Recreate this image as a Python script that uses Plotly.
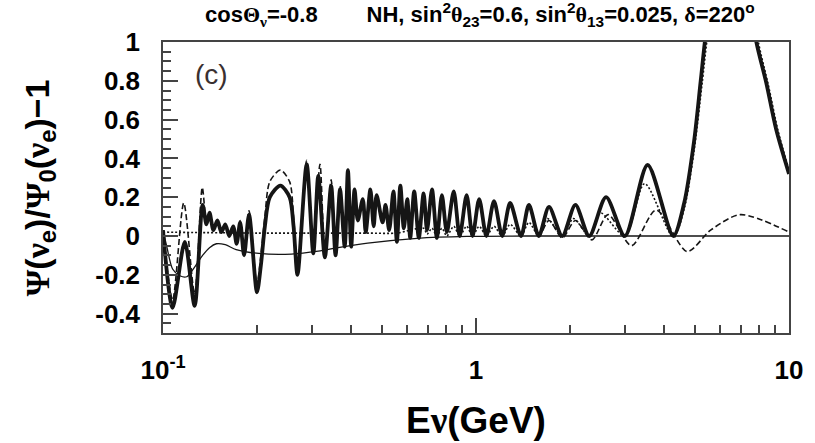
import plotly.graph_objects as go

# ---- data: (E in GeV, Psi/Psi0 - 1) ----
thick = [(0.1000, 0.03), (0.1073, -0.37), (0.1174, -0.03), (0.1262, -0.36), (0.1338, 0.16),
         (0.1377, 0.06), (0.1408, 0.12), (0.1449, 0.03), (0.1492, 0.08), (0.1536, 0.02),
         (0.1581, 0.06), (0.1628, 0.0), (0.1676, 0.05), (0.1719, -0.04), (0.1764, 0.07),
         (0.1816, -0.10), (0.1883, 0.11), (0.1996, -0.29), (0.2055, -0.15), (0.2116, 0.05),
         (0.2194, 0.20), (0.2372, 0.26), (0.2538, 0.20), (0.2613, 0.05), (0.2690, -0.20),
         (0.2878, 0.37), (0.3022, -0.09), (0.3134, 0.31), (0.3290, -0.11), (0.3445, 0.26),
         (0.3559, -0.10), (0.3678, 0.24), (0.3806, -0.055), (0.3898, 0.34), (0.3993, -0.055),
         (0.4093, 0.24), (0.4192, 0.08), (0.4348, 0.19), (0.4443, 0.02), (0.4598, 0.24),
         (0.4710, 0.05), (0.4814, 0.21), (0.5029, 0.07), (0.5139, 0.16), (0.5280, 0.03),
         (0.5447, 0.23), (0.5588, -0.03), (0.5732, 0.26), (0.5880, 0.04), (0.6032, 0.19),
         (0.6165, -0.01), (0.6347, 0.23), (0.6567, -0.01), (0.6801, 0.22), (0.6976, 0.03),
         (0.7235, 0.24), (0.7502, -0.01), (0.7781, 0.21), (0.8069, 0.02), (0.8490, 0.23),
         (0.8870, 0.0), (0.9333, 0.21), (0.9749, 0.0), (1.0236, 0.19), (1.0794, 0.0),
         (1.1416, 0.18), (1.2127, 0.0), (1.2854, 0.17), (1.3925, 0.0), (1.4760, 0.16),
         (1.5873, 0.0), (1.7107, 0.15), (1.8859, 0.0), (2.0776, 0.16), (2.3003, 0.0),
         (2.6033, 0.20), (2.9892, 0.0), (3.534, 0.366), (4.270, 0.0), (4.625, 0.17),
         (4.975, 0.49), (5.223, 0.80), (5.429, 1.05), (5.838, 1.40), (6.464, 1.60),
         (7.156, 1.40), (7.866, 1.00), (8.460, 0.79), (9.098, 0.55), (10.0, 0.32)]

dash_low = [(0.1000, 0.03), (0.1073, -0.33), (0.1165, 0.17), (0.1262, -0.30), (0.1335, 0.25),
            (0.1377, 0.07), (0.1408, 0.12), (0.1449, 0.03), (0.1492, 0.08), (0.1536, 0.02),
            (0.1581, 0.06), (0.1628, 0.0), (0.1676, 0.05), (0.1719, -0.04), (0.1764, 0.08),
            (0.1816, -0.09), (0.1883, 0.13), (0.1996, -0.25), (0.2055, -0.10), (0.2116, 0.10),
            (0.2194, 0.28), (0.2372, 0.34), (0.2538, 0.28), (0.2613, 0.10), (0.2690, -0.18),
            (0.2878, 0.39), (0.3022, -0.08), (0.3173, 0.37), (0.3290, -0.10), (0.3445, 0.29),
            (0.3559, -0.09), (0.3678, 0.26)]
dash_high = [(1.5873, 0.0), (1.7107, 0.08), (1.8859, -0.01), (2.0776, 0.08), (2.346, -0.02),
             (2.641, 0.11), (3.139, -0.05), (3.765, 0.134), (4.729, -0.08), (5.617, 0.03),
             (6.987, 0.11), (10.0, 0.02)]

dotted = [(0.1, 0.02), (0.2, 0.015), (0.3, 0.015), (0.45, 0.015), (0.5588, 0.015),
          (0.6801, 0.04), (0.6976, 0.01), (0.7235, 0.04), (0.7502, 0.0), (0.7781, 0.04),
          (0.8069, 0.0), (0.8490, 0.05), (0.8870, 0.0), (0.9333, 0.05), (0.9749, 0.0),
          (1.0236, 0.05), (1.0794, 0.0), (1.1416, 0.05), (1.2127, 0.0), (1.2854, 0.06),
          (1.3925, 0.0), (1.4760, 0.07), (1.5873, 0.0), (1.69, 0.09), (1.8859, 0.0),
          (2.048, 0.09), (2.3003, 0.0), (2.492, 0.12), (2.9892, 0.0), (3.457, 0.27),
          (4.270, -0.005), (4.625, 0.14), (4.975, 0.44), (5.272, 0.78), (5.508, 1.05),
          (5.923, 1.40), (6.559, 1.60), (7.261, 1.42), (7.982, 1.00), (8.584, 0.78),
          (9.233, 0.54), (10.0, 0.34)]

thin = [(0.1000, 0.03), (0.1030, -0.06), (0.1073, -0.17), (0.1132, -0.205), (0.1191, -0.21),
        (0.1262, -0.16), (0.1338, -0.10), (0.1408, -0.06), (0.1481, -0.04), (0.1581, -0.045),
        (0.1713, -0.07), (0.2025, -0.09), (0.2575, -0.093), (0.3134, -0.078), (0.3625, -0.06),
        (0.4509, -0.037), (0.6487, -0.012), (0.9333, -0.002), (1.444, 0.0), (10.0, 0.0)]

x_tickvals = [0.1, 1, 10]
x_ticktext = ['10<sup>-1</sup>', '1', '10']
x_minor = [0.2, 0.3, 0.4, 0.5, 0.6, 0.7, 0.8, 0.9, 2, 3, 4, 5, 6, 7, 8, 9]
y_tickvals = [-0.4, -0.2, 0, 0.2, 0.4, 0.6, 0.8, 1]
y_ticktext = ['-0.4', '-0.2', '0', '0.2', '0.4', '0.6', '0.8', '1']

dashed = dash_low + [p for p in thick if 0.38 <= p[0] <= 1.5] + dash_high


def xy(pts):
    return [p[0] for p in pts], [p[1] for p in pts]


def greek(ch):
    return '<span style="font-family:Liberation Serif, DejaVu Serif, serif">' + ch + '</span>'


INK = '#151515'
fig = go.Figure()
for pts, width, dash in [(thin, 1.3, 'solid'), (dashed, 1.6, '6px,3px'),
                         (dotted, 1.6, '2px,2px'), (thick, 3.8, 'solid')]:
    x, y = xy(pts)
    fig.add_trace(go.Scatter(x=x, y=y, mode='lines', showlegend=False, hoverinfo='skip',
                             line=dict(color=INK, width=width, dash=dash,
                                       shape='spline', smoothing=0.8)))

FONT = 'Liberation Sans, Arial, sans-serif'
axcol = '#444'
fig.update_xaxes(type='log', range=[-1, 1], showline=True, linecolor=axcol, linewidth=1.5,
                 mirror=True, ticks='inside', ticklen=15, tickwidth=1.5, tickcolor=axcol,
                 tickvals=x_tickvals, ticktext=x_ticktext, showgrid=False, zeroline=False,
                 tickfont=dict(family=FONT, size=26, color='black', weight='bold'),
                 ticklabelstandoff=13,
                 minor=dict(tickvals=x_minor, ticks='inside', ticklen=8, tickwidth=1.5,
                            tickcolor=axcol, showgrid=False))
fig.update_yaxes(range=[-0.5, 1], showline=True, linecolor=axcol, linewidth=1.5,
                 mirror=True, ticks='inside', ticklen=15, tickwidth=1.5, tickcolor=axcol,
                 tickvals=y_tickvals, ticktext=y_ticktext, showgrid=False, zeroline=False,
                 tickfont=dict(family=FONT, size=26, color='black', weight='bold'),
                 ticklabelstandoff=16,
                 minor=dict(dtick=0.05, tick0=0, ticks='inside', ticklen=8, tickwidth=1.5,
                            tickcolor=axcol, showgrid=False))

title_txt = ('cos' + greek('Θ') + '<sub>' + greek('ν') + '</sub>=-0.8' + '\u00a0' * 8 +
             'NH, sin<sup>2</sup>' + greek('θ') + '<sub>23</sub>=0.6, sin<sup>2</sup>' +
             greek('θ') + '<sub>13</sub>=0.025, ' + greek('δ') + '=220<sup>o</sup>')
fig.add_annotation(text=title_txt, xref='paper', yref='paper', x=0.507, y=1.095,
                   showarrow=False, xanchor='center', yanchor='middle',
                   font=dict(family=FONT, size=22, color='black', weight='bold'))
fig.add_annotation(text=greek('Ψ') + '(' + greek('ν') + '<sub>e</sub>)/' + greek('Ψ') +
                   '<sub>0</sub>(' + greek('ν') + '<sub>e</sub>)−1',
                   xref='paper', yref='paper', x=-0.197, y=0.50, textangle=-90,
                   showarrow=False, xanchor='center', yanchor='middle',
                   font=dict(family=FONT, size=34, color='black', weight='bold'))
fig.add_annotation(text='E' + greek('ν') + '(GeV)', xref='paper', yref='paper', x=0.50,
                   y=-0.30, showarrow=False, xanchor='center', yanchor='middle',
                   font=dict(family=FONT, size=37, color='black', weight='bold'))
fig.add_annotation(text='(c)', xref='paper', yref='paper', x=0.077, y=0.89,
                   showarrow=False, xanchor='center', yanchor='middle',
                   font=dict(family=FONT, size=28, color='#3a3030'))

fig.update_layout(width=815, height=443, autosize=False,
                  margin=dict(l=163, r=19, t=42, b=110),
                  paper_bgcolor='white', plot_bgcolor='white')
fig.write_html('out.html', config={'displayModeBar': False},
               post_script="document.body.style.margin='0';document.body.style.padding='0';")
